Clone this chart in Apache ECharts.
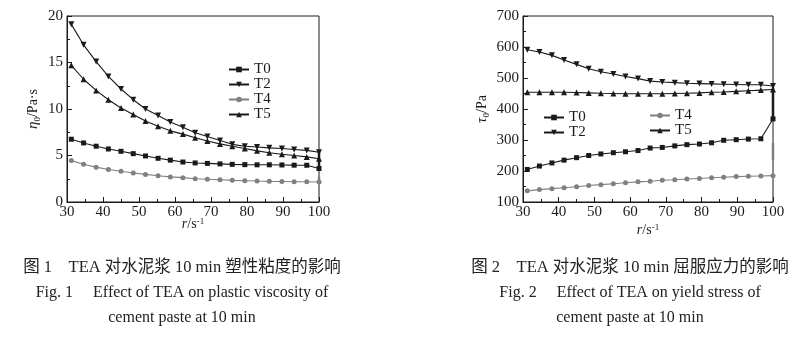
<!DOCTYPE html>
<html><head><meta charset="utf-8">
<script src="https://cdn.jsdelivr.net/npm/echarts@6/dist/echarts.min.js"></script>
<style>html,body{margin:0;padding:0;background:#fff}#c{width:803px;height:338px}</style>
</head><body><div id="c"></div>
<script>
// shear rate (x) values, shared by both figures
const shearRate = [31.2, 34.6, 38.1, 41.5, 45.0, 48.4, 51.8, 55.3, 58.7, 62.2, 65.6, 69.0, 72.5, 75.9, 79.4, 82.8, 86.2, 89.7, 93.1, 96.6, 100];
const seriesNames = ['T0', 'T2', 'T4', 'T5'];
// Fig.1 plastic viscosity (Pa·s)
const visT0 = [6.75, 6.35, 6.0, 5.7, 5.45, 5.2, 4.95, 4.7, 4.5, 4.3, 4.2, 4.15, 4.1, 4.05, 4.02, 4.0, 4.0, 3.98, 3.96, 3.95, 3.6];
const visT2 = [19.1, 16.9, 15.1, 13.5, 12.15, 11.0, 10.0, 9.3, 8.6, 8.05, 7.45, 7.05, 6.62, 6.2, 6.0, 5.92, 5.82, 5.75, 5.65, 5.55, 5.35];
const visT4 = [4.45, 4.05, 3.75, 3.5, 3.3, 3.12, 2.97, 2.83, 2.7, 2.62, 2.5, 2.44, 2.39, 2.33, 2.29, 2.25, 2.22, 2.2, 2.18, 2.17, 2.15];
const visT5 = [14.7, 13.2, 12.0, 11.0, 10.1, 9.4, 8.7, 8.15, 7.65, 7.3, 6.9, 6.55, 6.25, 6.0, 5.75, 5.5, 5.3, 5.13, 5.0, 4.85, 4.65];
const visBarBlack = [5.4, 3.55];
const visBarGray = [2.05, 2.75];
// Fig.2 yield stress (Pa)
const ysT0 = [205, 216, 226, 235, 243, 250, 255, 259, 262, 266, 274, 276, 281, 285, 287, 291, 299, 301, 303, 304, 368];
const ysT2 = [591, 584, 573, 558, 544, 530, 520, 513, 505, 498, 490, 487, 485, 483, 482, 481, 480, 479, 478, 478, 474];
const ysT4 = [136, 140, 143, 146, 149, 153, 156, 159, 162, 165, 167, 170, 172, 174, 176, 178, 180, 182, 183, 184, 185];
const ysT5 = [454, 454, 454, 454, 453, 452, 451, 450, 449, 449, 449, 449, 450, 451, 452, 454, 455, 457, 459, 461, 463];
const ysBarBlack = [470, 362];
const ysBarGray = [236, 290];
// tick labels
const xTicks = [30, 40, 50, 60, 70, 80, 90, 100];
const visTicks = [0, 5, 10, 15, 20];
const ysTicks = [100, 200, 300, 400, 500, 600, 700];
// captions
const cap1 = ['图 1\u3000TEA 对水泥浆 10 min 塑性粘度的影响', 'Fig. 1\u3000 Effect of TEA on plastic viscosity of', 'cement paste at 10 min'];
const cap2 = ['图 2\u3000TEA 对水泥浆 10 min 屈服应力的影响', 'Fig. 2\u3000 Effect of TEA on yield stress of', 'cement paste at 10 min'];

const SERIF = '"Liberation Serif","Noto Sans CJK SC",serif';
const BLACK = '#1a1a1a', GRAY = '#808080';
const styles = {
  T0: {symbol: 'rect', size: 5, color: BLACK, rot: 0},
  T2: {symbol: 'triangle', size: 6, color: BLACK, rot: 180},
  T4: {symbol: 'circle', size: 5, color: GRAY, rot: 0},
  T5: {symbol: 'triangle', size: 6, color: BLACK, rot: 0}
};
const zip = (ys) => ys.map((v, i) => [shearRate[i], v]);
const last = shearRate[shearRate.length - 1];

function mkSeries(name, ys, idx) {
  const s = styles[name];
  return {
    type: 'line', name, xAxisIndex: idx, yAxisIndex: idx, data: zip(ys),
    symbol: s.symbol, symbolSize: s.size, symbolRotate: s.rot,
    showAllSymbol: true, animation: false,
    lineStyle: {color: s.color, width: 1.1},
    itemStyle: {color: s.color}, z: 3
  };
}
function mkBar(name, ys, idx, color) {
  return {type: 'line', name, xAxisIndex: idx, yAxisIndex: idx,
    data: ys.map(v => [last, v]), symbol: 'none', animation: false,
    lineStyle: {color, width: 2.5}, z: 4};
}
const axisCommon = {
  axisLine: {show: true, lineStyle: {color: BLACK, width: 1}},
  axisTick: {show: true, inside: true, length: 5, lineStyle: {color: BLACK}},
  minorTick: {show: true, splitNumber: 2, length: 3, lineStyle: {color: BLACK}},
  splitLine: {show: false},
  axisLabel: {color: BLACK, fontFamily: SERIF, fontSize: 15, margin: 3}
};
function xAxis(idx) {
  return Object.assign({}, axisCommon, {
    type: 'value', gridIndex: idx, min: xTicks[0], max: xTicks[xTicks.length - 1], interval: 10,
    name: '{i|r}{n|/s}{s|-1}', nameLocation: 'middle', nameGap: idx === 0 ? 15 : 21,
    nameMoveOverlap: false,
    nameTextStyle: {rich: {
      i: {fontFamily: SERIF, fontStyle: 'italic', fontSize: 14, color: BLACK},
      n: {fontFamily: SERIF, fontSize: 14, color: BLACK},
      s: {fontFamily: SERIF, fontSize: 9, color: BLACK, verticalAlign: 'top', padding: [0, 0, 6, 0]}
    }}
  });
}
function yAxis(idx, ticks, name) {
  return Object.assign({}, axisCommon, {
    type: 'value', gridIndex: idx, min: ticks[0], max: ticks[ticks.length - 1], interval: ticks[1] - ticks[0],
    name, nameLocation: 'middle', nameRotate: 90, nameGap: idx === 0 ? 25 : 32,
    axisLabel: Object.assign({}, axisCommon.axisLabel, {margin: 4}),
    nameTextStyle: {rich: {
      g: {fontFamily: SERIF, fontStyle: 'italic', fontSize: 15, color: BLACK},
      s: {fontFamily: SERIF, fontSize: 9, color: BLACK, padding: [8, 0, 0, 0]},
      n: {fontFamily: SERIF, fontSize: 14, color: BLACK}
    }}
  });
}
function caption(lines, cx, ys) {
  return lines.map((t, i) => ({
    type: 'text', x: cx, y: ys[i],
    style: {text: t, font: (i === 0 ? '16.5px ' : '16px ') + SERIF, fill: '#222', align: 'center', verticalAlign: 'middle'}
  }));
}
const legendText = {fontFamily: SERIF, fontSize: 15, color: BLACK};
const option = {
  animation: false,
  backgroundColor: '#fff',
  grid: [
    {left: 67, top: 16, width: 252, height: 186, show: true, borderColor: BLACK, borderWidth: 1, backgroundColor: 'transparent'},
    {left: 523, top: 16, width: 250, height: 186, show: true, borderColor: BLACK, borderWidth: 1, backgroundColor: 'transparent'}
  ],
  xAxis: [xAxis(0), xAxis(1)],
  yAxis: [yAxis(0, visTicks, '{g|η}{s|0}{n|/Pa·s}'), yAxis(1, ysTicks, '{g|τ}{s|0}{n|/Pa}')],
  legend: [
    {data: seriesNames, orient: 'vertical', left: 228, top: 62, itemWidth: 20, itemHeight: 7, itemGap: 0, textStyle: legendText, padding: 0},
    {data: ['T0', 'T2'], orient: 'vertical', left: 543, top: 110, itemWidth: 20, itemHeight: 7, itemGap: 0, textStyle: legendText, padding: 0},
    {data: ['T4', 'T5'], orient: 'vertical', left: 649, top: 108, itemWidth: 20, itemHeight: 7, itemGap: 0, textStyle: legendText, padding: 0}
  ],
  series: [
    mkSeries('T0', visT0, 0), mkSeries('T2', visT2, 0), mkSeries('T4', visT4, 0), mkSeries('T5', visT5, 0),
    mkBar('e1', visBarBlack, 0, BLACK), mkBar('e2', visBarGray, 0, GRAY),
    mkSeries('T0', ysT0, 1), mkSeries('T2', ysT2, 1), mkSeries('T4', ysT4, 1), mkSeries('T5', ysT5, 1),
    mkBar('e3', ysBarBlack, 1, BLACK), mkBar('e4', ysBarGray, 1, GRAY)
  ],
  graphic: [].concat(
    caption(cap1, 182, [268, 293, 318]),
    caption(cap2, 630, [268, 293, 318])
  )
};
const chart = echarts.init(document.getElementById('c'), null, {renderer: 'canvas'});
chart.setOption(option);
</script></body></html>
